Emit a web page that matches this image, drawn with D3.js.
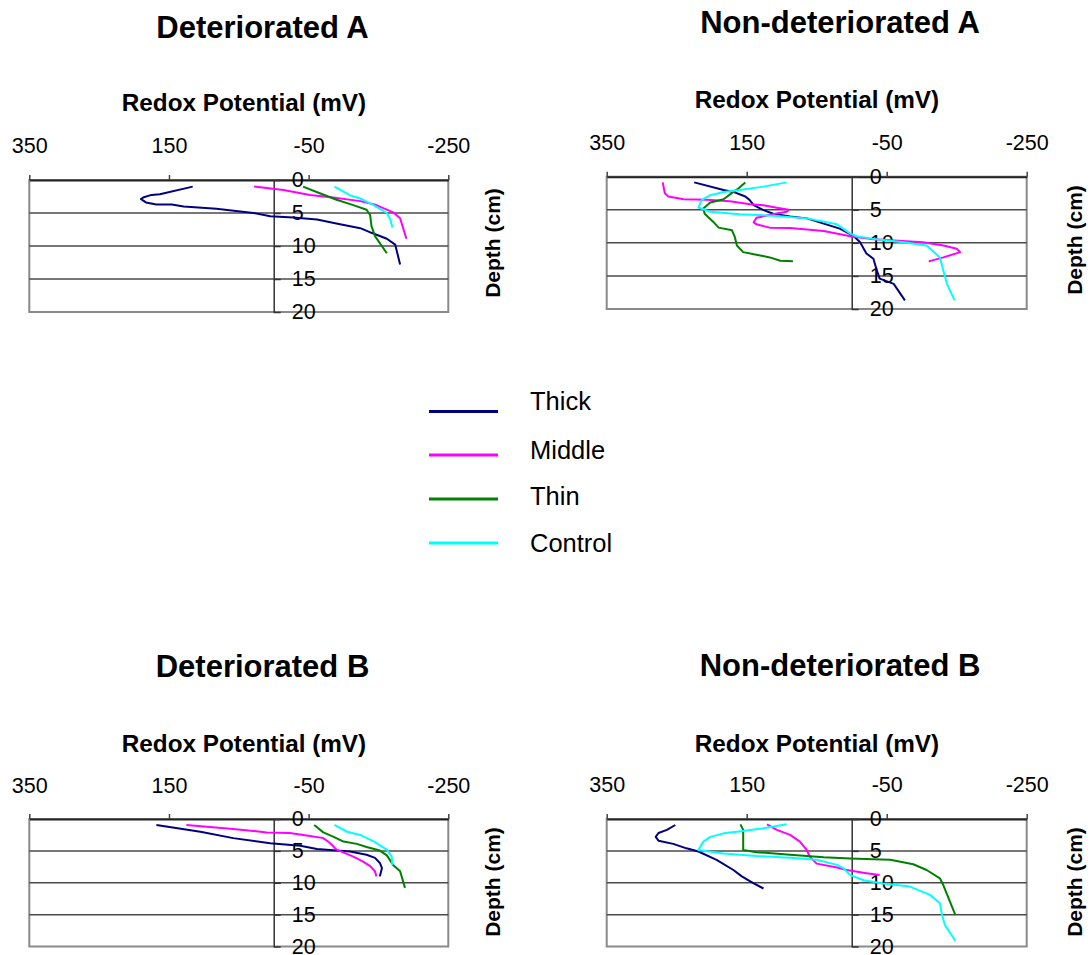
<!DOCTYPE html>
<html>
<head>
<meta charset="utf-8">
<script src="https://cdn.jsdelivr.net/npm/d3@7"></script>
<style>
  html, body { margin: 0; padding: 0; background: #fff; }
  svg { display: block; font-family: "Liberation Sans", Arial, sans-serif; }
</style>
</head>
<body>
<svg id="chart" width="1091" height="955"></svg>
<script>
// Redox potential profiles: [redox potential (mV), depth (cm)]
const seriesNames = ["Thick", "Middle", "Thin", "Control"];
const seriesColors = ["#000080", "#ff00ff", "#008000", "#00ffff"];
const xTicks = [350, 150, -50, -250];
const yTicks = [0, 5, 10, 15, 20];

// Deteriorated A
const detA_thick = [[116,1.0],[163,2.16],[175,2.26],[187,2.66],[190,2.9],[183,3.4],[168,3.7],[146,3.7],[129,4.0],[82,4.35],[29,5.0],[5,5.5],[-28,5.7],[-62,6.0],[-95,6.7],[-124,7.3],[-140,8.0],[-162,8.9],[-174,9.8],[-181,12.8]];
const detA_middle = [[28,1.0],[-14,1.5],[-52,2.26],[-85,2.66],[-124,3.2],[-147,3.8],[-171,4.9],[-181,5.8],[-190,8.9]];
const detA_thin = [[-42,1.0],[-66,2.0],[-90,3.0],[-114,3.8],[-133,4.5],[-138,5.3],[-140,7.0],[-145,8.5],[-162,11.1]];
const detA_control = [[-87,1.0],[-109,2.3],[-124,2.8],[-143,3.8],[-162,5.0],[-167,6.0],[-170,7.2]];

// Non-deteriorated A
const nonA_thick = [[225,0.86],[183,2.0],[169,2.3],[152,3.0],[146,3.5],[140,4.3],[126,5.06],[112,5.6],[88,6.0],[64,6.3],[40,7.1],[17,7.85],[-2,8.9],[-12,9.9],[-21,11.6],[-31,12.4],[-36,14.2],[-40,15.4],[-60,16.2],[-76,18.7]];
const nonA_middle = [[270,0.86],[267,2.5],[262,3.0],[240,3.4],[207,3.5],[174,3.7],[145,4.15],[126,4.3],[107,4.7],[90,5.0],[93,5.3],[107,5.57],[136,6.2],[140,6.9],[136,7.2],[117,7.7],[88,7.75],[40,8.2],[2,9.0],[-26,9.4],[-55,9.6],[-102,9.9],[-131,10.4],[-150,10.9],[-155,11.4],[-131,12.2],[-110,12.8]];
const nonA_thin = [[152,0.86],[162,1.8],[169,2.3],[183,3.4],[202,3.9],[212,4.8],[210,5.6],[198,6.8],[190,7.7],[171,8.1],[167,9.1],[164,10.4],[155,11.4],[136,11.8],[117,12.2],[102,12.7],[84,12.8]];
const nonA_control = [[93,0.86],[126,1.5],[160,2.0],[183,2.3],[202,2.8],[214,3.5],[219,4.66],[202,5.3],[160,5.67],[112,5.9],[64,6.3],[21,7.2],[2,8.6],[-7,9.0],[-31,9.4],[-74,9.9],[-107,10.4],[-126,12.2],[-131,14.2],[-136,16.2],[-147,18.7]];

// Deteriorated B
const detB_thick = [[168,0.94],[105,2.0],[58,3.0],[5,3.8],[-38,4.2],[-62,4.7],[-109,5.1],[-133,5.6],[-145,6.1],[-152,6.9],[-155,7.7],[-152,9.0]];
const detB_middle = [[125,0.94],[58,1.56],[10,2.1],[-23,2.2],[-52,2.66],[-71,3.0],[-81,3.8],[-90,4.8],[-114,5.9],[-128,6.7],[-138,7.4],[-145,8.2],[-147,9.0]];
const detB_thin = [[-58,0.94],[-71,2.1],[-85,2.76],[-100,3.54],[-119,3.9],[-133,4.4],[-152,4.95],[-162,5.7],[-171,7.2],[-181,8.2],[-188,10.8]];
const detB_control = [[-87,0.94],[-105,2.0],[-124,2.5],[-143,3.5],[-162,4.8],[-169,5.9],[-170,7.2]];

// Non-deteriorated B
const nonB_thick = [[252,0.94],[264,1.7],[276,2.2],[280,2.8],[276,3.4],[255,3.9],[236,4.6],[219,5.1],[193,6.4],[169,8.0],[157,9.0],[140,10.1],[126,10.9]];
const nonB_middle = [[121,0.84],[107,1.7],[88,2.5],[74,3.55],[64,4.9],[60,5.9],[50,7.0],[21,7.6],[7,8.0],[-21,8.5],[-40,8.8]];
const nonB_thin = [[159,0.84],[155,1.7],[155,4.86],[136,5.2],[88,5.6],[40,6.0],[2,6.2],[-31,6.3],[-55,6.4],[-88,7.1],[-107,8.0],[-126,9.3],[-131,10.4],[-148,15.05]];
const nonB_control = [[93,0.84],[126,1.46],[164,2.0],[183,2.25],[202,2.8],[212,3.55],[219,4.86],[183,5.4],[136,5.8],[88,6.06],[50,6.4],[21,7.2],[12,7.7],[2,8.8],[-17,9.6],[-45,10.1],[-83,10.6],[-112,11.9],[-126,13.2],[-129,15.05],[-133,16.6],[-148,19.1]];

const panels = [
  { title: "Deteriorated A", series: [detA_thick, detA_middle, detA_thin, detA_control],
    left: 29.3, right: 448.3, top: 180, bottom: 312,
    titleX: 262.5, titleY: 37.5, subX: 244, subY: 111, tickY: 153.3, depthX: 493, depthY: 243 },
  { title: "Non-deteriorated A", series: [nonA_thick, nonA_middle, nonA_thin, nonA_control],
    left: 606.7, right: 1026.7, top: 176.7, bottom: 309,
    titleX: 840, titleY: 32.5, subX: 817, subY: 107.5, tickY: 150, depthX: 1075, depthY: 240 },
  { title: "Deteriorated B", series: [detB_thick, detB_middle, detB_thin, detB_control],
    left: 29.3, right: 448.3, top: 819, bottom: 946.5,
    titleX: 262.5, titleY: 677, subX: 244, subY: 751.5, tickY: 793, depthX: 493, depthY: 882 },
  { title: "Non-deteriorated B", series: [nonB_thick, nonB_middle, nonB_thin, nonB_control],
    left: 606.7, right: 1026.7, top: 819, bottom: 946.5,
    titleX: 840, titleY: 675.5, subX: 817, subY: 751.5, tickY: 792, depthX: 1075, depthY: 882 }
];

const svg = d3.select("#chart");
const plainNumber = d => String(d);

panels.forEach(p => {
  const g = svg.append("g");
  const x = d3.scaleLinear().domain([350, -250]).range([p.left, p.right]);
  const y = d3.scaleLinear().domain([0, 20]).range([p.top, p.bottom]);

  // frame
  g.append("rect")
    .attr("x", p.left).attr("y", p.top)
    .attr("width", p.right - p.left).attr("height", p.bottom - p.top)
    .attr("fill", "none").attr("stroke", "#8a8a8a").attr("stroke-width", 2);

  // horizontal gridlines
  g.selectAll("line.grid").data([5, 10, 15]).join("line")
    .attr("class", "grid")
    .attr("x1", p.left).attr("x2", p.right)
    .attr("y1", d => y(d)).attr("y2", d => y(d))
    .attr("stroke", "#4a4a4a").attr("stroke-width", 1.5);

  // top x axis
  const xAxis = g.append("g")
    .attr("transform", `translate(0,${p.top})`)
    .call(d3.axisTop(x).tickValues(xTicks).tickSize(5).tickSizeOuter(0)
      .tickPadding(p.top - p.tickY - 5).tickFormat(plainNumber));
  xAxis.select(".domain").attr("stroke", "#222").attr("stroke-width", 2);
  xAxis.selectAll(".tick line").attr("stroke", "#444").attr("stroke-width", 1.5);
  xAxis.selectAll("text").attr("font-size", 21.5).attr("fill", "#000")
    .attr("font-family", "Liberation Sans, Arial, sans-serif");

  // depth axis at x = 0
  const yAxis = g.append("g")
    .attr("transform", `translate(${x(0)},0)`)
    .call(d3.axisRight(y).tickValues(yTicks).tickSize(7).tickSizeOuter(0)
      .tickPadding(11).tickFormat(plainNumber));
  yAxis.select(".domain").attr("stroke", "#333").attr("stroke-width", 1.5);
  yAxis.selectAll(".tick line").attr("stroke", "#333").attr("stroke-width", 1.5);
  yAxis.selectAll("text").attr("font-size", 21.5).attr("fill", "#000")
    .attr("font-family", "Liberation Sans, Arial, sans-serif");

  // profile lines
  const line = d3.line().x(d => x(d[0])).y(d => y(d[1]));
  g.selectAll("path.profile").data(p.series).join("path")
    .attr("class", "profile")
    .attr("d", line)
    .attr("fill", "none")
    .attr("stroke", (d, i) => seriesColors[i])
    .attr("stroke-width", 2)
    .attr("stroke-linejoin", "round");

  // titles
  g.append("text").attr("x", p.titleX).attr("y", p.titleY)
    .attr("text-anchor", "middle").attr("font-size", 31).attr("font-weight", "bold")
    .text(p.title);
  g.append("text").attr("x", p.subX).attr("y", p.subY)
    .attr("text-anchor", "middle").attr("font-size", 24.3).attr("font-weight", "bold")
    .text("Redox Potential (mV)");
  g.append("text")
    .attr("transform", `translate(${p.depthX},${p.depthY}) rotate(-90)`)
    .attr("text-anchor", "middle").attr("dy", "0.35em")
    .attr("font-size", 21).attr("font-weight", "bold")
    .text("Depth (cm)");
});

// legend
const legendY = [411.5, 455, 499, 543];
const legendTextY = [401.5, 450, 496.5, 543];
const legend = svg.append("g");
seriesNames.forEach((name, i) => {
  legend.append("line")
    .attr("x1", 429).attr("x2", 498)
    .attr("y1", legendY[i]).attr("y2", legendY[i])
    .attr("stroke", seriesColors[i]).attr("stroke-width", 3);
  legend.append("text")
    .attr("x", 530).attr("y", legendTextY[i]).attr("dy", "0.35em")
    .attr("font-size", 25.5).text(name);
});
</script>
</body>
</html>
